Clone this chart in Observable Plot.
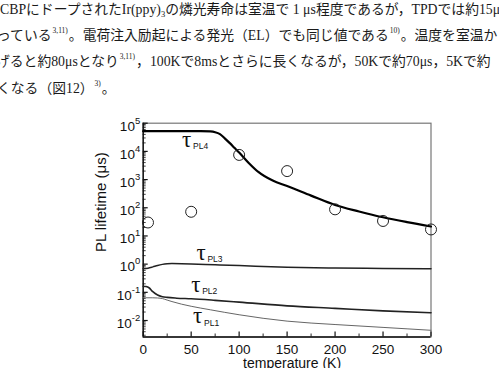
<!DOCTYPE html>
<html>
<head>
<meta charset="utf-8">
<script src="https://cdn.jsdelivr.net/npm/d3@7"></script>
<script src="https://cdn.jsdelivr.net/npm/@observablehq/plot@0.6"></script>
<style>
  html, body { margin: 0; padding: 0; background: #fff; }
  #page { position: relative; width: 499px; height: 368px; overflow: hidden; }
  #prose {
    position: absolute; left: 0; top: -2px; width: 499px; height: 100px; overflow: hidden;
    font-family: "Liberation Serif", "Noto Sans CJK JP", serif;
    font-size: 13.8px; line-height: 24.7px; color: #1a1a1a; white-space: nowrap;
  }
  #prose div { position: relative; }
  #prose sup { font-size: 7.5px; vertical-align: 0; position: relative; top: -7px; margin: 0 1px; }
  #prose sub { font-size: 8.5px; vertical-align: 0; position: relative; top: 3px; }
  #chart { position: absolute; left: 0; top: 100px; }
  #chart svg { display: block; }
</style>
</head>
<body>
<div id="page">
  <div id="prose"></div>
  <div id="chart"></div>
</div>
<script>
// Body text above the figure (^{..} = reference superscript, _{..} = subscript)
const proseLines = [
  "CBPにドープされたIr(ppy)_{3}の燐光寿命は室温で 1 μs程度であるが，TPDでは約15μs",
  "っている^{3,11)}。電荷注入励起による発光（EL）でも同じ値である^{10)}。温度を室温から",
  "げると約80μsとなり^{3,11)}，100Kで8msとさらに長くなるが，50Kで約70μs，5Kで約",
  "くなる（図12）^{3)}。"
];
const proseIndent = [0, -3, -4, -3];

// Measured PL lifetimes (μs) vs temperature (K)
const measT = [5, 50, 100, 150, 200, 250, 300];
const measTau = [30, 72, 7500, 2000, 88, 34, 17];

// Model lifetimes τPL1..τPL4 (μs)
const t4T = [0, 20, 40, 60, 70, 75, 80, 85, 90, 95, 100, 110, 120, 135, 150, 175, 200, 225, 250, 275, 300];
const t4Tau = [52000, 52000, 52000, 52000, 51000, 48000, 41000, 29000, 20000, 13500, 9100, 3900, 1870, 920, 590, 270, 126, 74, 46, 31, 21.7];

const t3T = [0, 5, 10, 15, 20, 25, 30, 40, 50, 75, 100, 150, 200, 250, 300];
const t3Tau = [0.68, 0.72, 0.8, 0.9, 0.98, 1.03, 1.05, 1.04, 1.02, 0.95, 0.89, 0.78, 0.73, 0.7, 0.68];

const t2T = [0, 3, 6, 10, 15, 20, 25, 35, 50, 75, 100, 150, 200, 250, 300];
const t2Tau = [0.165, 0.16, 0.145, 0.105, 0.08, 0.07, 0.066, 0.062, 0.059, 0.052, 0.045, 0.033, 0.027, 0.022, 0.0188];

const t1T = [0, 5, 10, 15, 20, 25, 30, 40, 50, 70, 100, 150, 200, 250, 300];
const t1Tau = [0.064, 0.064, 0.064, 0.063, 0.06, 0.053, 0.047, 0.038, 0.032, 0.024, 0.016, 0.0095, 0.0072, 0.0057, 0.0045];

// Axis ticks
const xTicks = [0, 50, 100, 150, 200, 250, 300];
const xMinorTicks = [25, 75, 125, 175, 225, 275];
const yExponents = [-2, -1, 0, 1, 2, 3, 4, 5];

// ---- prose ----
const prose = document.getElementById("prose");
proseLines.forEach((line, i) => {
  const div = document.createElement("div");
  div.style.left = proseIndent[i] + "px";
  div.innerHTML = line
    .replace(/\^\{([^}]*)\}/g, "<sup>$1</sup>")
    .replace(/_\{([^}]*)\}/g, "<sub>$1</sub>");
  prose.appendChild(div);
});

// ---- chart ----
const W = 499, H = 268;
const mL = 142.7, mR = 68.5, mT = 22.7, mB = 31.5;
const plotW = W - mL - mR, plotH = H - mT - mB;

const rows = (xs, ys) => xs.map((x, i) => ({T: x, tau: ys[i]}));
const yMajor = yExponents.map(e => 10 ** e);
const yDomain = [0.0026, 1e5];
const yMinor = [-3, ...yExponents]
  .flatMap(e => [2, 3, 4, 5, 6, 7, 8, 9].map(m => m * 10 ** e))
  .filter(v => v >= yDomain[0] && v < yDomain[1]);

const curveLabels = [
  {sub: "PL4", T: 40.5, tau: 22400},
  {sub: "PL3", T: 55.5, tau: 2.15},
  {sub: "PL2", T: 50, tau: 0.161},
  {sub: "PL1", T: 52, tau: 0.0123}
];

const font = "'Liberation Sans', Arial, sans-serif";

const chart = Plot.plot({
  width: W,
  height: H,
  marginLeft: mL,
  marginRight: mR,
  marginTop: mT,
  marginBottom: mB,
  style: {fontFamily: font, background: "#fff", color: "#111"},
  x: {domain: [0, 300], axis: null},
  y: {type: "log", domain: yDomain, axis: null},
  marks: [
    // frame: gray top/right, black left/bottom axes
    Plot.frame({stroke: "#777", strokeWidth: 1.2}),
    Plot.ruleX([0], {stroke: "#111", strokeWidth: 1.4}),
    Plot.ruleY([yDomain[0]], {stroke: "#111", strokeWidth: 1.4}),
    // inward ticks
    Plot.tickY(yMajor, {y: d => d, insetRight: plotW - 5, stroke: "#111", strokeWidth: 1.2}),
    Plot.tickY(yMinor, {y: d => d, insetRight: plotW - 3, stroke: "#111", strokeWidth: 0.8}),
    Plot.tickX(xTicks, {x: d => d, insetTop: plotH - 5, stroke: "#111", strokeWidth: 1.2}),
    Plot.tickX(xMinorTicks, {x: d => d, insetTop: plotH - 3, stroke: "#111", strokeWidth: 0.9}),
    // tick labels
    Plot.text(xTicks, {x: d => d, frameAnchor: "bottom", dy: 13, text: d => String(d),
      fontSize: 13.5, fill: "#111", lineAnchor: "middle"}),
    Plot.text(yMajor, {y: d => d, frameAnchor: "left", dx: -3, dy: 3, textAnchor: "end",
      text: d => "10^" + Math.round(Math.log10(d)), fontSize: 13.5, fill: "#111",
      lineAnchor: "middle"}),
    // axis titles
    Plot.text(["temperature (K)"], {frameAnchor: "bottom", dx: 5, dy: 26.5, text: d => d,
      fontSize: 14, fill: "#111", lineAnchor: "middle"}),
    Plot.text(["PL lifetime (μs)"], {frameAnchor: "left", dx: -42, dy: 22, rotate: -90,
      text: d => d, fontSize: 15, fill: "#111", lineAnchor: "middle"}),
    // model curves
    Plot.line(rows(t1T, t1Tau), {x: "T", y: "tau", curve: "monotone-x", stroke: "#666", strokeWidth: 1}),
    Plot.line(rows(t2T, t2Tau), {x: "T", y: "tau", curve: "monotone-x", stroke: "#222", strokeWidth: 1.6}),
    Plot.line(rows(t3T, t3Tau), {x: "T", y: "tau", curve: "monotone-x", stroke: "#222", strokeWidth: 1.5}),
    Plot.line(rows(t4T, t4Tau), {x: "T", y: "tau", curve: "monotone-x", stroke: "#000", strokeWidth: 2.2}),
    // measured points
    Plot.dot(rows(measT, measTau), {x: "T", y: "tau", r: 5.5, stroke: "#222", strokeWidth: 1, fill: "none"}),
    // curve labels τ with subscript
    Plot.text(curveLabels, {x: "T", y: "tau", text: () => "τ", textAnchor: "start",
      fontFamily: "'Liberation Serif', serif", fontSize: 23, fill: "#111", lineAnchor: "middle", dy: -2}),
    Plot.text(curveLabels, {x: "T", y: "tau", text: "sub", textAnchor: "start", dx: 11, dy: 5,
      fontSize: 8.5, fill: "#111", lineAnchor: "middle"})
  ]
});

// render the decade labels as 10 with a raised exponent
d3.select(chart).selectAll("text").each(function () {
  const s = this.textContent;
  if (!s.includes("^")) return;
  const [base, exp] = s.split("^");
  const t = d3.select(this);
  t.text(null);
  t.append("tspan").text(base);
  t.append("tspan").attr("dy", "-7").attr("font-size", "9.5").text(exp);
});

document.getElementById("chart").appendChild(chart);
</script>
</body>
</html>
